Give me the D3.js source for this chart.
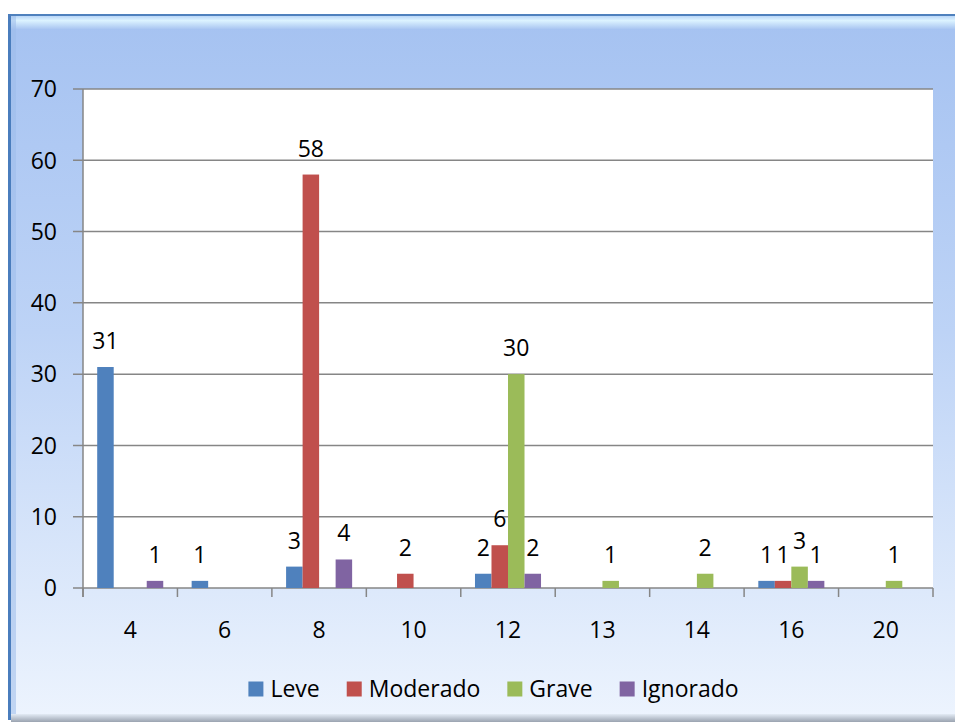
<!DOCTYPE html>
<html>
<head>
<meta charset="utf-8">
<script src="https://cdn.jsdelivr.net/npm/d3@7"></script>
<style>
  html, body { margin: 0; padding: 0; background: #ffffff; }
  svg { display: block; }
  text { font-family: "Open Sans", "Noto Sans", sans-serif; fill: #000; }
</style>
</head>
<body>
<svg id="chart" width="955" height="722"></svg>
<script>
const categories = ["4", "6", "8", "10", "12", "13", "14", "16", "20"];
const seriesNames = ["Leve", "Moderado", "Grave", "Ignorado"];
const leve     = [31, 1, 3, 0, 2, 0, 0, 1, 0];
const moderado = [0, 0, 58, 2, 6, 0, 0, 1, 0];
const grave    = [0, 0, 0, 0, 30, 1, 2, 3, 1];
const ignorado = [1, 0, 4, 0, 2, 0, 0, 1, 0];
const yTicks = [0, 10, 20, 30, 40, 50, 60, 70];
const colors = ["#4f81bd", "#c0504d", "#9bbb59", "#8064a2"];

const seriesValues = [leve, moderado, grave, ignorado];

const svg = d3.select("#chart");
const defs = svg.append("defs");

const bg = defs.append("linearGradient").attr("id", "bgGrad")
  .attr("x1", 0).attr("y1", 0).attr("x2", 0).attr("y2", 1);
bg.append("stop").attr("offset", "0%").attr("stop-color", "#a5c2f1");
bg.append("stop").attr("offset", "45%").attr("stop-color", "#bdd3f6");
bg.append("stop").attr("offset", "82%").attr("stop-color", "#dde9fb");
bg.append("stop").attr("offset", "100%").attr("stop-color", "#edf4fe");

const hl = defs.append("linearGradient").attr("id", "hlGrad")
  .attr("x1", 0).attr("y1", 0).attr("x2", 0).attr("y2", 1);
hl.append("stop").attr("offset", "0%").attr("stop-color", "#b9d6f8");
hl.append("stop").attr("offset", "35%").attr("stop-color", "#dcf3ff");
hl.append("stop").attr("offset", "100%").attr("stop-color", "#aac6f2");

const bottomG = defs.append("linearGradient").attr("id", "botGrad")
  .attr("x1", 0).attr("y1", 0).attr("x2", 0).attr("y2", 1);
bottomG.append("stop").attr("offset", "0%").attr("stop-color", "#e3ebf5");
bottomG.append("stop").attr("offset", "100%").attr("stop-color", "#9aa3b0");

// frame
svg.append("rect").attr("x", 8).attr("y", 14).attr("width", 960).attr("height", 706)
  .attr("fill", "url(#bgGrad)");
svg.append("rect").attr("x", 10).attr("y", 16).attr("width", 960).attr("height", 13)
  .attr("fill", "url(#hlGrad)");
svg.append("rect").attr("x", 10).attr("y", 16).attr("width", 6).attr("height", 700)
  .attr("fill", "#9dbbe9").attr("opacity", 0.55);
svg.append("rect").attr("x", 8).attr("y", 14).attr("width", 960).attr("height", 2)
  .attr("fill", "#4f81bd");
svg.append("rect").attr("x", 8).attr("y", 14).attr("width", 3).attr("height", 706)
  .attr("fill", "#4a7dbd");
svg.append("rect").attr("x", 11).attr("y", 714).attr("width", 960).attr("height", 8)
  .attr("fill", "url(#botGrad)");

// plot area
const x0 = 83, x1 = 933, yTop = 89, yBot = 588;
svg.append("rect").attr("x", x0).attr("y", yTop).attr("width", x1 - x0).attr("height", yBot - yTop)
  .attr("fill", "#ffffff");

const x = d3.scaleBand().domain(categories).range([x0, x1]).paddingInner(0).paddingOuter(0);
const xs = d3.scaleBand().domain(seriesNames).range([0, x.bandwidth()]).paddingInner(0).paddingOuter(0.86);
const y = d3.scaleLinear().domain([0, 70]).range([yBot, yTop]);

// gridlines
svg.append("g").selectAll("line").data(yTicks).join("line")
  .attr("x1", x0 - 10).attr("x2", x1)
  .attr("y1", d => y(d)).attr("y2", d => y(d))
  .attr("stroke", "#868686").attr("stroke-width", 1.5);

// y axis line
svg.append("line").attr("x1", x0).attr("x2", x0).attr("y1", yTop).attr("y2", yBot + 9)
  .attr("stroke", "#868686").attr("stroke-width", 1.5);

// x ticks at category boundaries
const bounds = categories.map(c => x(c)).concat([x1]);
svg.append("g").selectAll("line").data(bounds).join("line")
  .attr("x1", d => d).attr("x2", d => d)
  .attr("y1", yBot).attr("y2", yBot + 9)
  .attr("stroke", "#868686").attr("stroke-width", 1.5);

// y tick labels
svg.append("g").selectAll("text").data(yTicks).join("text")
  .attr("x", 57).attr("y", d => y(d)).attr("dy", "0.36em")
  .attr("text-anchor", "end").attr("font-size", 23)
  .text(d => d);

// x tick labels
svg.append("g").selectAll("text").data(categories).join("text")
  .attr("x", d => x(d) + x.bandwidth() / 2).attr("y", 638)
  .attr("text-anchor", "middle").attr("font-size", 23)
  .text(d => d);

// bars
const flat = [];
seriesNames.forEach((s, si) => {
  categories.forEach((c, ci) => {
    flat.push({ s, si, c, v: seriesValues[si][ci] });
  });
});
svg.append("g").selectAll("rect").data(flat.filter(d => d.v > 0)).join("rect")
  .attr("x", d => x(d.c) + xs(d.s))
  .attr("width", xs.bandwidth())
  .attr("y", d => y(d.v))
  .attr("height", d => yBot - y(d.v))
  .attr("fill", d => colors[d.si]);

// labels
svg.append("g").selectAll("text").data(flat.filter(d => d.v > 0)).join("text")
  .attr("x", d => x(d.c) + xs(d.s) + xs.bandwidth() / 2)
  .attr("y", d => y(d.v) - 18)
  .attr("text-anchor", "middle").attr("font-size", 23)
  .text(d => d.v);

// legend
const lg = svg.append("g");
const items = lg.selectAll("g").data(seriesNames).join("g");
items.append("rect").attr("width", 15).attr("height", 15).attr("y", -7.5)
  .attr("fill", (d, i) => colors[i]);
items.append("text").attr("x", 22).attr("dy", "0.36em").attr("font-size", 23)
  .text(d => d);
let cx = 0;
const offs = [];
items.each(function () {
  offs.push(cx);
  const w = 22 + d3.select(this).select("text").node().getComputedTextLength();
  cx += w + 27;
});
const total = cx - 27;
const start = 493.5 - total / 2;
items.attr("transform", (d, i) => `translate(${start + offs[i]},689)`);
</script>
</body>
</html>
